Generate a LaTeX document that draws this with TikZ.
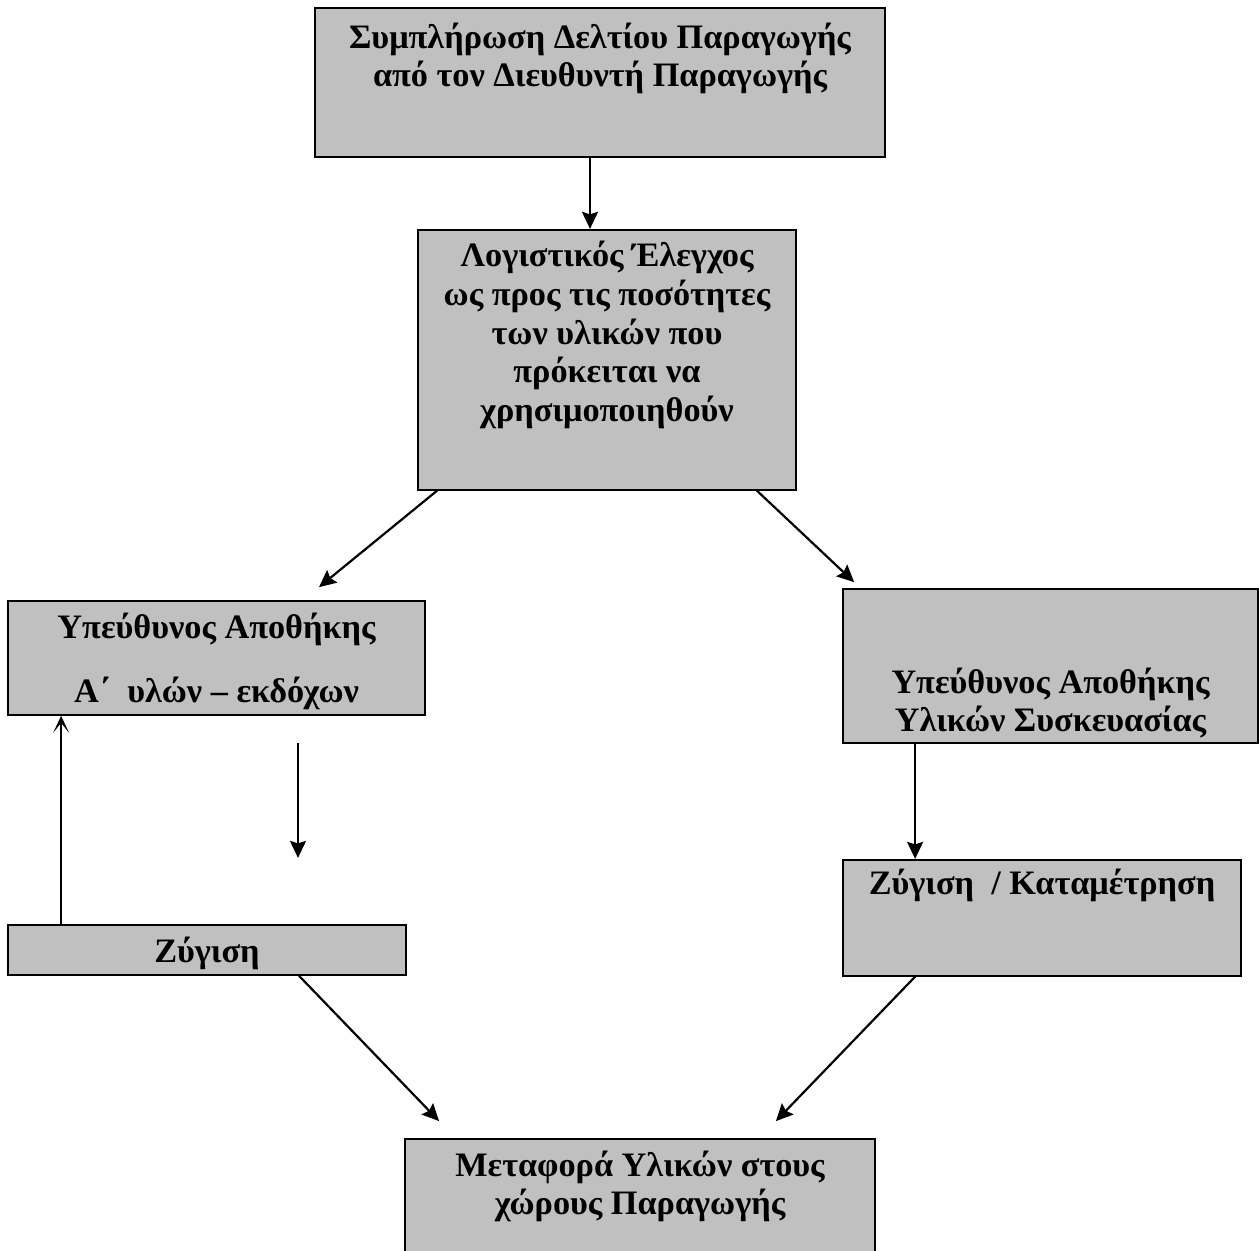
\documentclass[tikz,border=0pt]{standalone}
\usepackage{fontspec}
\setmainfont{Liberation Serif}
\usepackage{xcolor}
\usepackage{tikz}
\usetikzlibrary{arrows.meta, positioning}

\definecolor{boxgray}{HTML}{C0C0C0}

% box content: width, height, top padding, text
\newcommand{\blocktext}[4]{\parbox[c][#2][t]{#1}{\centering\vspace*{#3}\strut #4}}

\begin{document}
\begin{tikzpicture}[
    block/.style={rectangle, draw, fill=boxgray, line width=1pt, inner sep=0pt, font=\bfseries\fontsize{19.5}{22}\selectfont},
    arrow/.style={-{Stealth[length=0.34cm, width=0.32cm, inset=0.05cm]}, line width=1.25pt},
    openarrow/.style={-{Stealth[length=0.34cm, width=0.32cm, inset=0.2cm]}, line width=1.25pt}
]
\useasboundingbox (0,0) rectangle (25.18,-25);
\clip (0,0) rectangle (25.18,-25);

% Production order
\node[block] (order) at (12.0,-1.65) {\blocktext{11.4cm}{2.98cm}{0.26cm}{Συμπλήρωση Δελτίου Παραγωγής\\από τον Διευθυντή Παραγωγής}};

% Accounting check
\node[block, below=1.42cm of order, xshift=0.14cm] (check) {\blocktext{7.56cm}{5.2cm}{0.2cm}{Λογιστικός Έλεγχος\\ως προς τις ποσότητες\\των υλικών που\\πρόκειται να\\χρησιμοποιηθούν}};

% Raw materials store
\node[block] (rawstore) at (4.33,-13.16) {\blocktext{8.34cm}{2.28cm}{0.2cm}{Υπεύθυνος Αποθήκης\\[0.52cm]Α΄\ \ υλών – εκδόχων}};

% Packaging store
\node[block] (packstore) at (21.01,-13.32) {\blocktext{8.3cm}{3.08cm}{1.54cm}{Υπεύθυνος Αποθήκης\\Υλικών Συσκευασίας}};

% Weighing
\node[block, below=4.16cm of rawstore, xshift=-0.19cm] (weigh) {\blocktext{7.96cm}{1.0cm}{0.22cm}{Ζύγιση}};

% Weighing / counting
\node[block, below=2.3cm of packstore, xshift=-0.17cm] (count) {\blocktext{7.96cm}{2.32cm}{0.16cm}{Ζύγιση\ \ / Καταμέτρηση}};

% Transfer to production
\node[block] (transfer) at (12.8,-24.26) {\blocktext{9.4cm}{2.96cm}{0.2cm}{Μεταφορά Υλικών στους\\χώρους Παραγωγής}};

% Free arrow between the left boxes
\coordinate (gaptop) at ([xshift=1.63cm, yshift=-0.54cm]rawstore.south);
\coordinate (gapbot) at ([xshift=1.63cm, yshift=-2.84cm]rawstore.south);

% Arrows
\draw[arrow] ([xshift=-0.2cm]order.south) -- ([xshift=-0.2cm]order.south |- check.north);
\draw[arrow] ([xshift=0.4cm]check.south west) -- ([xshift=2.05cm, yshift=0.26cm]rawstore.north);
\draw[arrow] ([xshift=-0.8cm]check.south east) -- ([xshift=0.24cm, yshift=0.12cm]packstore.north west);
\draw[openarrow] ([xshift=1.08cm]weigh.north west) -- ([xshift=1.08cm]weigh.north west |- rawstore.south);
\draw[arrow] (gaptop) -- (gapbot);
\draw[arrow] ([xshift=1.46cm]packstore.south west) -- ([xshift=1.46cm]packstore.south west |- count.north);
\draw[arrow] ([xshift=-2.16cm]weigh.south east) -- ([xshift=0.7cm, yshift=0.34cm]transfer.north west);
\draw[arrow] ([xshift=1.46cm]count.south west) -- ([xshift=-2.0cm, yshift=0.34cm]transfer.north east);

\end{tikzpicture}
\end{document}
